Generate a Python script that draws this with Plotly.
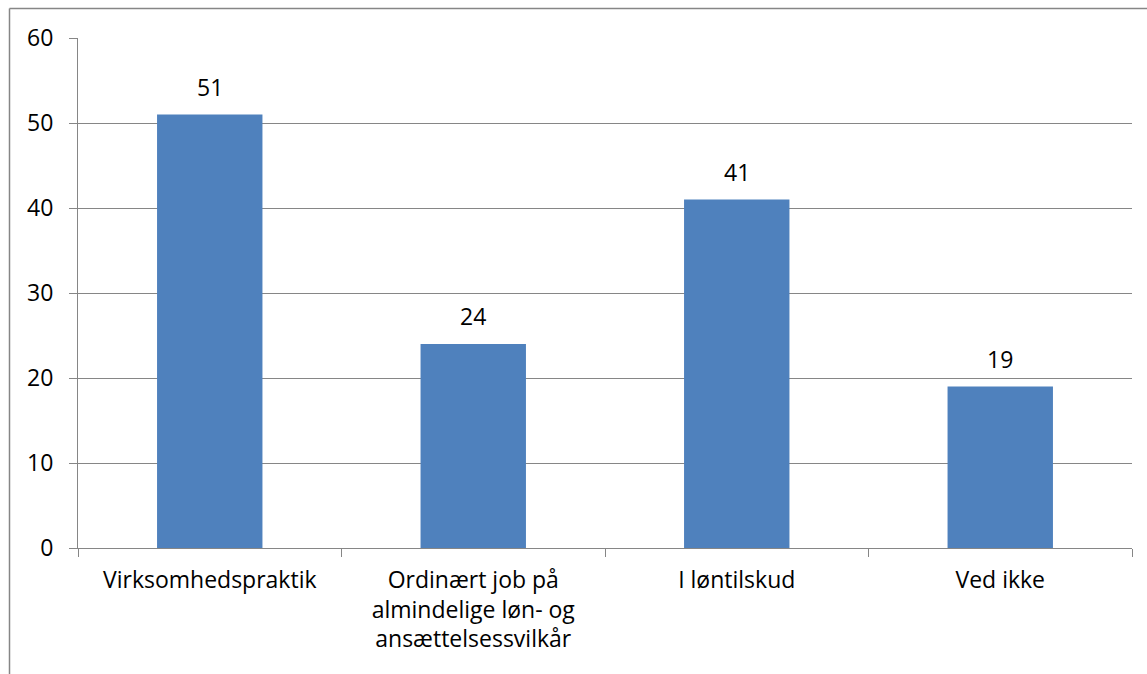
import plotly.graph_objects as go

categories = [
    "Virksomhedspraktik",
    "Ordinært job på<br>almindelige løn- og<br>ansættelsessvilkår",
    "I løntilskud",
    "Ved ikke",
]
values = [51, 24, 41, 19]
y_ticks = [0, 10, 20, 30, 40, 50, 60]

W, H = 1147, 674
L, R, T, B = 78, 15, 38, 126
plot_w = W - L - R
plot_h = H - T - B

def px_x(px):
    return (px - L) / plot_w

def px_y(py):
    return (H - B - py) / plot_h

font = dict(family="Open Sans, Liberation Sans, sans-serif", size=23, color="#000000")
grey = "#868686"

fig = go.Figure(
    go.Bar(
        x=categories,
        y=values,
        marker=dict(color="#4F81BD", line=dict(width=0)),
        width=0.4,
        cliponaxis=False,
    )
)

# value labels above each bar
for cat, v in zip(categories, values):
    fig.add_annotation(
        x=cat,
        y=v,
        text=str(v),
        showarrow=False,
        yanchor="bottom",
        yshift=10,
        font=font,
    )

fig.update_layout(
    width=W,
    height=H,
    margin=dict(l=L, r=R, t=T, b=B),
    paper_bgcolor="white",
    plot_bgcolor="white",
    showlegend=False,
    font=font,
    bargap=0.6,
)

fig.update_yaxes(
    range=[0, 60],
    tickvals=y_ticks,
    showgrid=True,
    gridcolor=grey,
    gridwidth=1,
    showline=True,
    linecolor=grey,
    linewidth=1,
    ticks="outside",
    ticklen=8,
    tickcolor=grey,
    ticklabelstandoff=11,
    zeroline=False,
    tickfont=font,
)

fig.update_xaxes(
    showline=True,
    linecolor=grey,
    linewidth=1,
    ticks="outside",
    tickson="boundaries",
    ticklen=8,
    tickcolor=grey,
    ticklabelstandoff=11,
    showgrid=False,
    tickfont=font,
)

# chart-area frame: left and top edges (the rest runs off the page)
frame = dict(color=grey, width=1.5)
fig.add_shape(type="line", xref="paper", yref="paper",
              x0=px_x(9.5), x1=px_x(9.5), y0=px_y(674), y1=px_y(8.5), line=frame)
fig.add_shape(type="line", xref="paper", yref="paper",
              x0=px_x(9.5), x1=px_x(1147), y0=px_y(8.5), y1=px_y(8.5), line=frame)

fig.write_html("out.html")
